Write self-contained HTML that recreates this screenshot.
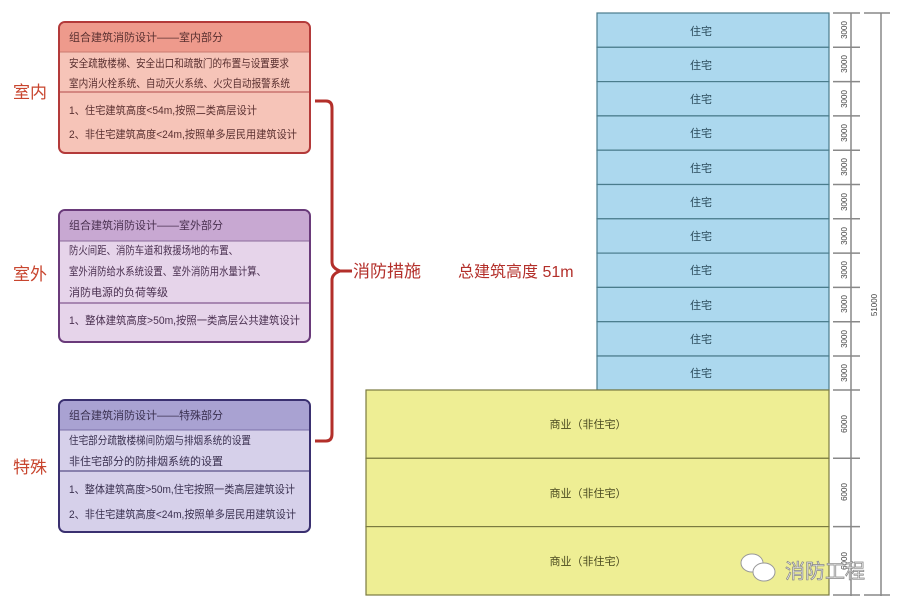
<!DOCTYPE html>
<html><head><meta charset="utf-8"><style>
html,body{margin:0;padding:0;background:#fff;}
svg text{font-family:"Liberation Sans","Noto Sans CJK SC",sans-serif;}
</style></head><body>
<svg width="900" height="609" viewBox="0 0 900 609" xmlns="http://www.w3.org/2000/svg">
<g fill="#c8452e" font-size="17">
<text x="13" y="98">室内</text>
<text x="13" y="280">室外</text>
<text x="13" y="473">特殊</text>
</g>
<rect x="59" y="22" width="251" height="131" rx="6" fill="#f6c4b8" stroke="#b33a3a" stroke-width="2"/>
<path d="M60 52 V28 a5 5 0 0 1 5 -5 H304 a5 5 0 0 1 5 5 V52 Z" fill="#ee9a8c"/>
<line x1="60" y1="52" x2="309" y2="52" stroke="#c97a70"/>
<line x1="60" y1="92" x2="309" y2="92" stroke="#b34a4a"/>
<g font-size="11" fill="#5a3030">
<text x="69" y="41">组合建筑消防设计——室内部分</text>
<text x="69" y="67" textLength="220" lengthAdjust="spacingAndGlyphs">安全疏散楼梯、安全出口和疏散门的布置与设置要求</text>
<text x="69" y="87" textLength="221" lengthAdjust="spacingAndGlyphs">室内消火栓系统、自动灭火系统、火灾自动报警系统</text>
<text x="69" y="114" textLength="188" lengthAdjust="spacingAndGlyphs">1、住宅建筑高度&lt;54m,按照二类高层设计</text>
<text x="69" y="138" textLength="228" lengthAdjust="spacingAndGlyphs">2、非住宅建筑高度&lt;24m,按照单多层民用建筑设计</text>
</g>
<rect x="59" y="210" width="251" height="132" rx="6" fill="#e6d4ea" stroke="#6a3a7a" stroke-width="2"/>
<path d="M60 241 V216 a5 5 0 0 1 5 -5 H304 a5 5 0 0 1 5 5 V241 Z" fill="#c8a8d2"/>
<line x1="60" y1="241" x2="309" y2="241" stroke="#8a6a9a"/>
<line x1="60" y1="303" x2="309" y2="303" stroke="#6a3a7a"/>
<g font-size="11" fill="#4a3050">
<text x="69" y="229">组合建筑消防设计——室外部分</text>
<text x="69" y="254" textLength="169" lengthAdjust="spacingAndGlyphs">防火间距、消防车道和救援场地的布置、</text>
<text x="69" y="275" textLength="197" lengthAdjust="spacingAndGlyphs">室外消防给水系统设置、室外消防用水量计算、</text>
<text x="69" y="296">消防电源的负荷等级</text>
<text x="69" y="324" textLength="231" lengthAdjust="spacingAndGlyphs">1、整体建筑高度&gt;50m,按照一类高层公共建筑设计</text>
</g>
<rect x="59" y="400" width="251" height="132" rx="6" fill="#d6d0ea" stroke="#3a3070" stroke-width="2"/>
<path d="M60 430 V406 a5 5 0 0 1 5 -5 H304 a5 5 0 0 1 5 5 V430 Z" fill="#a9a2d2"/>
<line x1="60" y1="430" x2="309" y2="430" stroke="#7a70a8"/>
<line x1="60" y1="471" x2="309" y2="471" stroke="#3a3070"/>
<g font-size="11" fill="#3a3050">
<text x="69" y="419">组合建筑消防设计——特殊部分</text>
<text x="69" y="444" textLength="182" lengthAdjust="spacingAndGlyphs">住宅部分疏散楼梯间防烟与排烟系统的设置</text>
<text x="69" y="465">非住宅部分的防排烟系统的设置</text>
<text x="69" y="493" textLength="226" lengthAdjust="spacingAndGlyphs">1、整体建筑高度&gt;50m,住宅按照一类高层建筑设计</text>
<text x="69" y="518" textLength="227" lengthAdjust="spacingAndGlyphs">2、非住宅建筑高度&lt;24m,按照单多层民用建筑设计</text>
</g>
<path d="M315 101 H326 Q332 101 332 108 V262 Q332 268 340 271 L352 271 M340 271 Q332 274 332 280 V434 Q332 441 326 441 H315" fill="none" stroke="#b32f2a" stroke-width="3"/>
<text x="353" y="277" font-size="17" fill="#b32f2a">消防措施</text>
<text x="458" y="277" font-size="16" fill="#b32f2a">总建筑高度 51m</text>
<g stroke="#4a7c8c" stroke-width="1.2" fill="#acd8ee">
<rect x="597" y="13" width="232" height="34.3"/>
<rect x="597" y="47.3" width="232" height="34.3"/>
<rect x="597" y="81.6" width="232" height="34.3"/>
<rect x="597" y="115.9" width="232" height="34.3"/>
<rect x="597" y="150.2" width="232" height="34.3"/>
<rect x="597" y="184.5" width="232" height="34.3"/>
<rect x="597" y="218.8" width="232" height="34.3"/>
<rect x="597" y="253.1" width="232" height="34.3"/>
<rect x="597" y="287.4" width="232" height="34.3"/>
<rect x="597" y="321.7" width="232" height="34.3"/>
<rect x="597" y="356" width="232" height="34"/>
</g>
<g font-size="11" fill="#2a4a5a" text-anchor="middle">
<text x="701" y="35">住宅</text><text x="701" y="69">住宅</text><text x="701" y="103">住宅</text>
<text x="701" y="137">住宅</text><text x="701" y="172">住宅</text><text x="701" y="206">住宅</text>
<text x="701" y="240">住宅</text><text x="701" y="274">住宅</text><text x="701" y="309">住宅</text>
<text x="701" y="343">住宅</text><text x="701" y="377">住宅</text>
</g>
<g stroke="#7a7a40" stroke-width="1.2" fill="#eeee94">
<rect x="366" y="390" width="463" height="68.3"/>
<rect x="366" y="458.3" width="463" height="68.3"/>
<rect x="366" y="526.6" width="463" height="68.4"/>
</g>
<g font-size="11" fill="#4a4a20" text-anchor="middle">
<text x="588" y="428">商业（非住宅）</text>
<text x="588" y="497">商业（非住宅）</text>
<text x="588" y="565">商业（非住宅）</text>
</g>
<g stroke="#888" stroke-width="1.5">
<line x1="851" y1="13" x2="851" y2="596"/>
<line x1="881" y1="13" x2="881" y2="596"/>
<line x1="833" y1="13" x2="860" y2="13"/><line x1="864" y1="13" x2="890" y2="13"/>
<line x1="833" y1="595" x2="860" y2="595"/><line x1="864" y1="595" x2="890" y2="595"/>
<line x1="833" y1="47.3" x2="860" y2="47.3"/><line x1="833" y1="81.6" x2="860" y2="81.6"/>
<line x1="833" y1="115.9" x2="860" y2="115.9"/><line x1="833" y1="150.2" x2="860" y2="150.2"/>
<line x1="833" y1="184.5" x2="860" y2="184.5"/><line x1="833" y1="218.8" x2="860" y2="218.8"/>
<line x1="833" y1="253.1" x2="860" y2="253.1"/><line x1="833" y1="287.4" x2="860" y2="287.4"/>
<line x1="833" y1="321.7" x2="860" y2="321.7"/><line x1="833" y1="356" x2="860" y2="356"/>
<line x1="833" y1="390" x2="860" y2="390"/><line x1="833" y1="458.3" x2="860" y2="458.3"/>
<line x1="833" y1="526.6" x2="860" y2="526.6"/>
</g>
<g font-size="8" fill="#444" text-anchor="middle">
<text transform="translate(847,30) rotate(-90)">3000</text>
<text transform="translate(847,64) rotate(-90)">3000</text>
<text transform="translate(847,99) rotate(-90)">3000</text>
<text transform="translate(847,133) rotate(-90)">3000</text>
<text transform="translate(847,167) rotate(-90)">3000</text>
<text transform="translate(847,202) rotate(-90)">3000</text>
<text transform="translate(847,236) rotate(-90)">3000</text>
<text transform="translate(847,270) rotate(-90)">3000</text>
<text transform="translate(847,304) rotate(-90)">3000</text>
<text transform="translate(847,339) rotate(-90)">3000</text>
<text transform="translate(847,373) rotate(-90)">3000</text>
<text transform="translate(847,424) rotate(-90)">6000</text>
<text transform="translate(847,492) rotate(-90)">6000</text>
<text transform="translate(847,561) rotate(-90)">6000</text>
<text transform="translate(877,305) rotate(-90)">51000</text>
</g>
<g>
<ellipse cx="752" cy="563" rx="11" ry="9" fill="#fff" stroke="#999"/>
<ellipse cx="764" cy="572" rx="11" ry="9" fill="#fff" stroke="#999"/>
<text x="785" y="578" font-size="20" fill="#e8e8e8" stroke="#888" stroke-width="0.7">消防工程</text>
</g>
</svg>
</body></html>
